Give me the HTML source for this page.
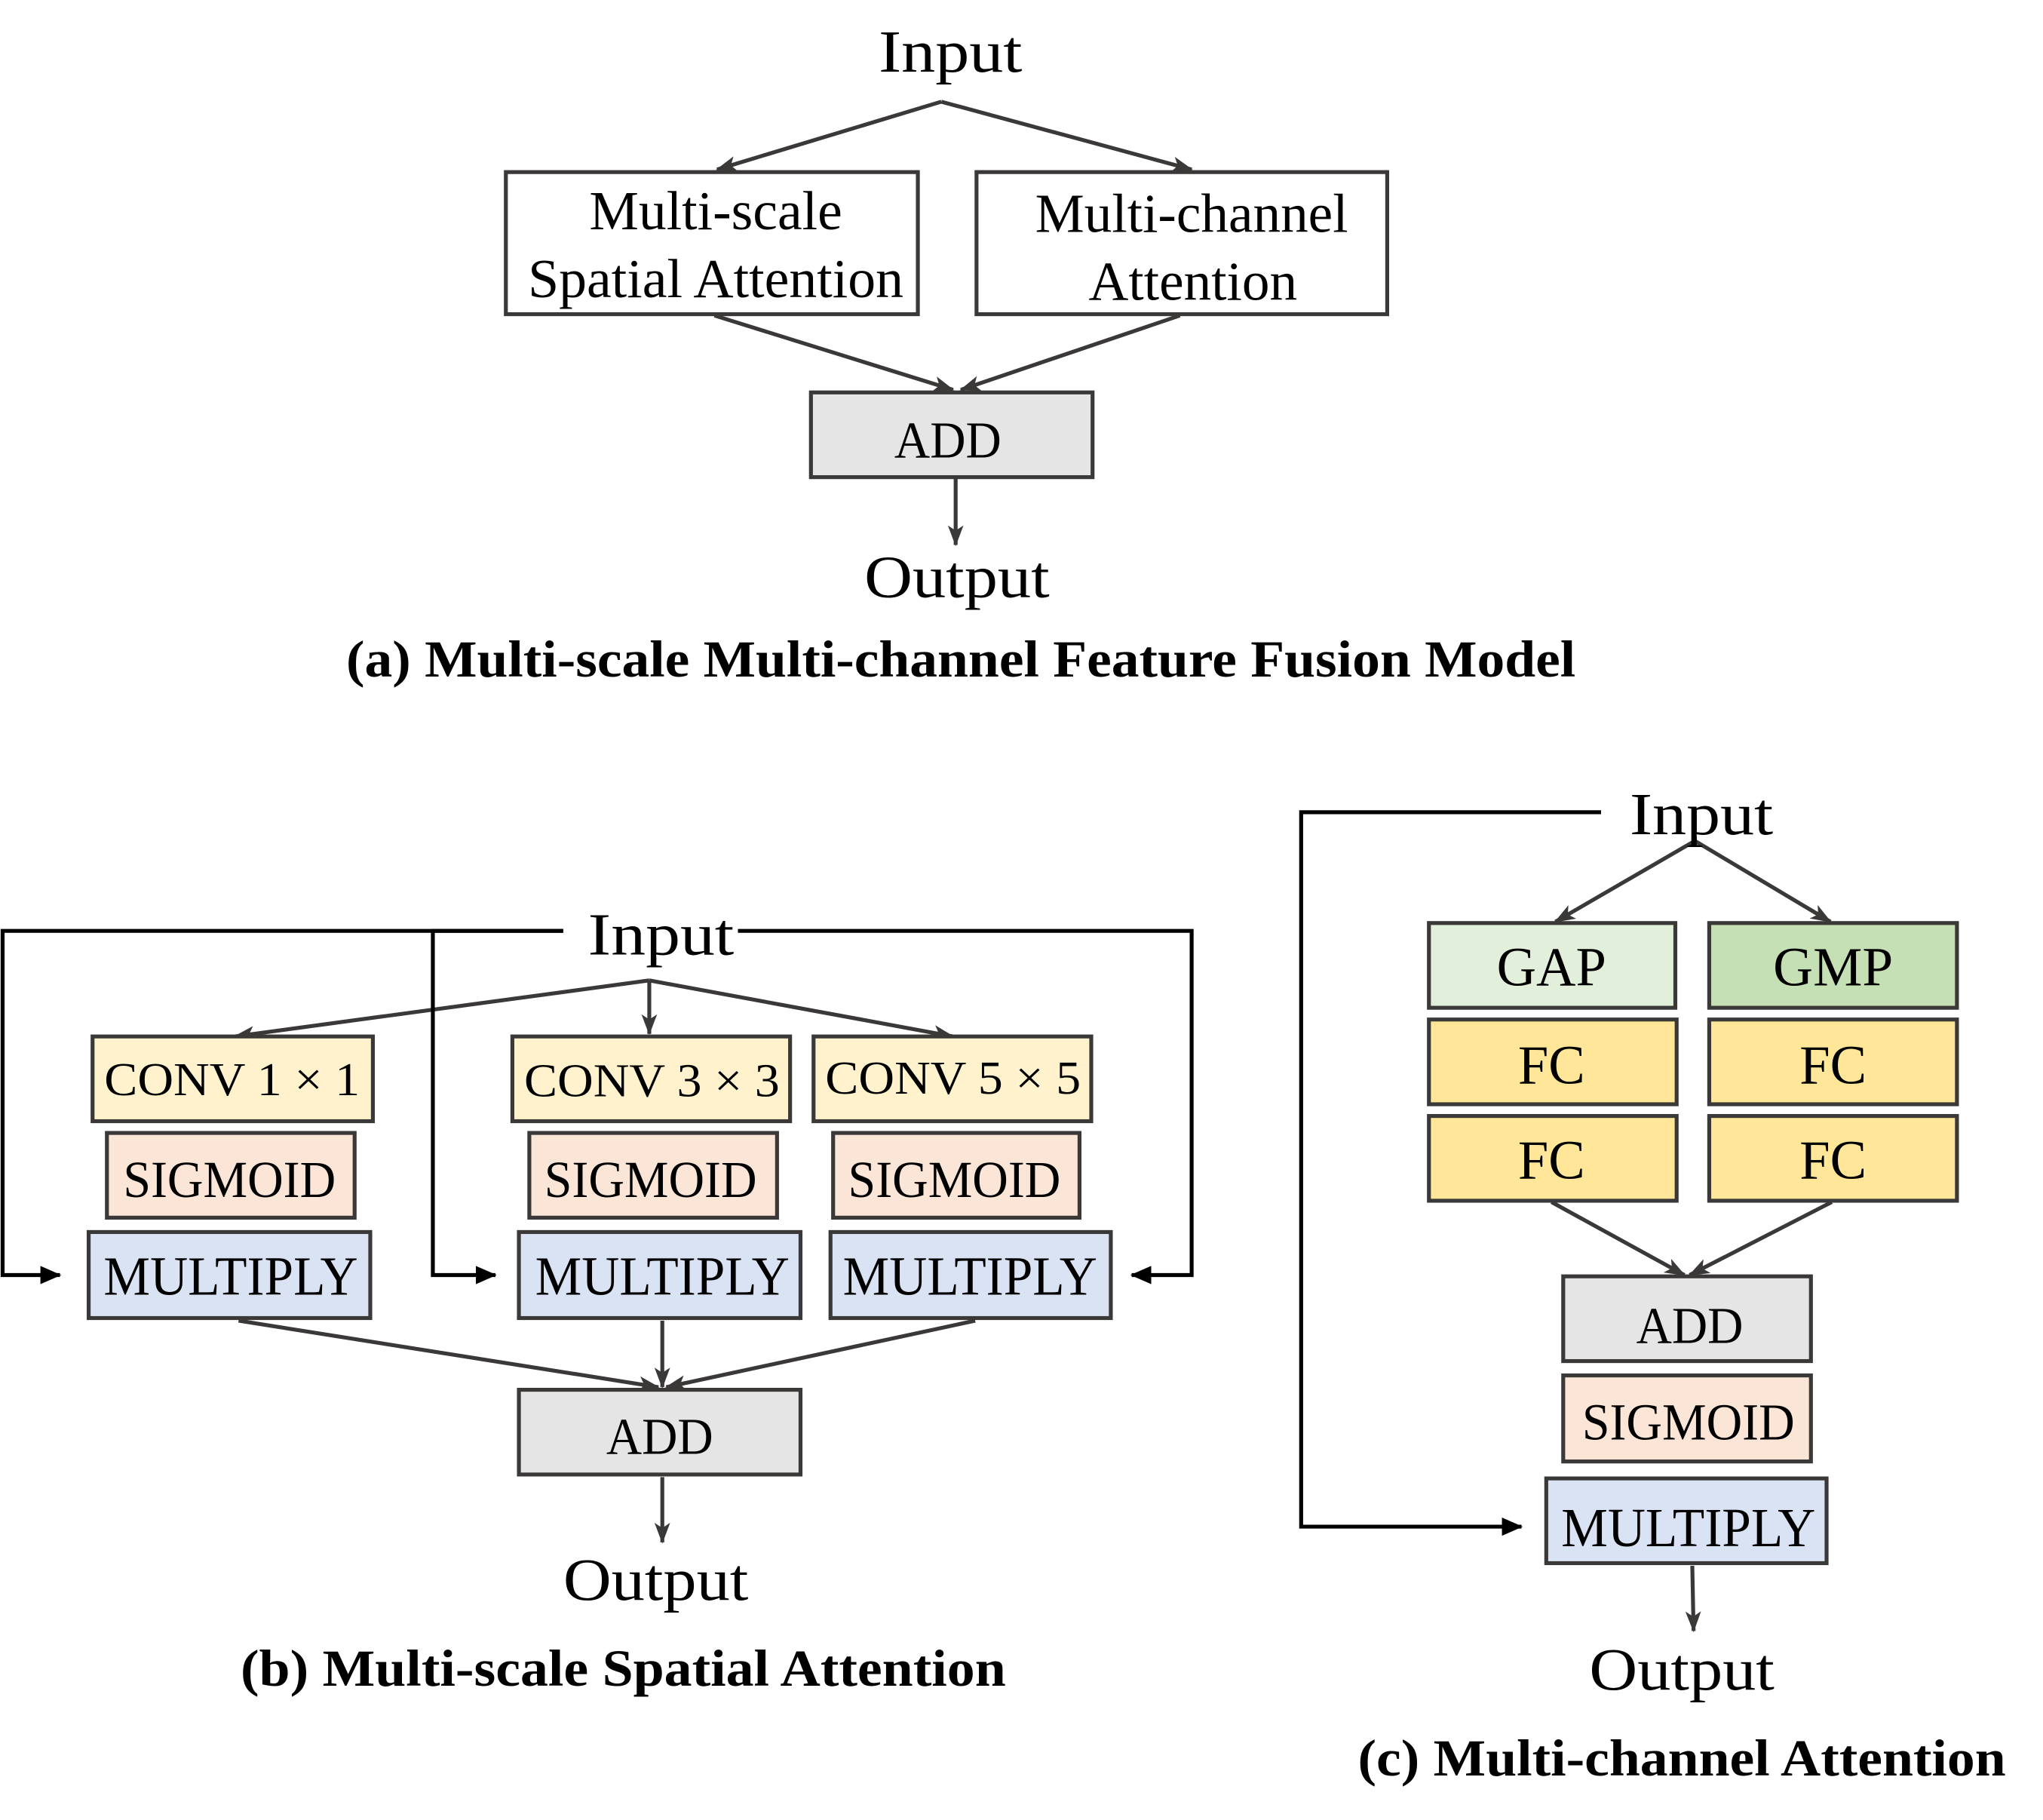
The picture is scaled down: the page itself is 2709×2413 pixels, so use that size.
<!DOCTYPE html>
<html><head><meta charset="utf-8"><style>
html,body{margin:0;padding:0;background:#fff;}
svg{display:block;}
text{font-family:"Liberation Serif",serif;fill:#000;}
</style></head><body>
<svg width="2709" height="2413" viewBox="0 0 1567 1396" preserveAspectRatio="none" xmlns="http://www.w3.org/2000/svg">
<defs>
<marker id="ag" markerWidth="16" markerHeight="12" refX="15" refY="6" orient="auto" markerUnits="userSpaceOnUse"><path d="M0,0 L16,6 L0,12 L4,6 z" fill="#3b3838"/></marker>
<marker id="ab" markerWidth="16" markerHeight="14" refX="15" refY="7" orient="auto" markerUnits="userSpaceOnUse"><path d="M0,0 L16,7 L0,14 z" fill="#000"/></marker>
</defs>
<g stroke="#3b3838" stroke-width="3" fill="none">
<line x1="722" y1="78" x2="914" y2="130" marker-end="url(#ag)"/>
<line x1="722" y1="78" x2="550" y2="130" marker-end="url(#ag)"/>
<line x1="548" y1="242" x2="731" y2="299" marker-end="url(#ag)"/>
<line x1="905" y1="242" x2="737" y2="299" marker-end="url(#ag)"/>
<line x1="733" y1="367" x2="733" y2="418" marker-end="url(#ag)"/>
<rect x="388" y="132" width="316" height="109" fill="#fff"/>
<rect x="749" y="132" width="315" height="109" fill="#fff"/>
<rect x="622" y="301" width="216" height="65" fill="#e6e5e5"/>
<line x1="498" y1="752" x2="180" y2="795" marker-end="url(#ag)"/>
<line x1="498" y1="752" x2="731" y2="795" marker-end="url(#ag)"/>
<line x1="498" y1="752" x2="498" y2="793" marker-end="url(#ag)"/>
<line x1="183" y1="1013" x2="505" y2="1064" marker-end="url(#ag)"/>
<line x1="508" y1="1013" x2="508" y2="1064" marker-end="url(#ag)"/>
<line x1="748" y1="1013" x2="511" y2="1064" marker-end="url(#ag)"/>
<line x1="508" y1="1133" x2="508" y2="1183" marker-end="url(#ag)"/>
<rect x="71" y="795" width="215" height="65" fill="#fff2cc"/>
<rect x="82" y="869" width="190" height="65" fill="#fbe5d6"/>
<rect x="68" y="945" width="216" height="66" fill="#dae3f3"/>
<rect x="393" y="795" width="213" height="65" fill="#fff2cc"/>
<rect x="406" y="869" width="190" height="65" fill="#fbe5d6"/>
<rect x="398" y="945" width="216" height="66" fill="#dae3f3"/>
<rect x="624" y="795" width="213" height="65" fill="#fff2cc"/>
<rect x="639" y="869" width="189" height="65" fill="#fbe5d6"/>
<rect x="637" y="945" width="215" height="66" fill="#dae3f3"/>
<rect x="398" y="1066" width="216" height="65" fill="#e6e5e5"/>
<line x1="1300" y1="645" x2="1193" y2="707" marker-end="url(#ag)"/>
<line x1="1300" y1="645" x2="1404" y2="707" marker-end="url(#ag)"/>
<line x1="1190" y1="922" x2="1292" y2="978" marker-end="url(#ag)"/>
<line x1="1405" y1="922" x2="1296" y2="978" marker-end="url(#ag)"/>
<line x1="1298" y1="1201" x2="1299" y2="1251" marker-end="url(#ag)"/>
<rect x="1096" y="708" width="189" height="65" fill="#e2efda"/>
<rect x="1311" y="708" width="190" height="65" fill="#c5e0b4"/>
<rect x="1096" y="782" width="190" height="65" fill="#ffe699"/>
<rect x="1311" y="782" width="190" height="65" fill="#ffe699"/>
<rect x="1096" y="856" width="190" height="65" fill="#ffe699"/>
<rect x="1311" y="856" width="190" height="65" fill="#ffe699"/>
<rect x="1199" y="979" width="190" height="65" fill="#e6e5e5"/>
<rect x="1199" y="1055" width="190" height="66" fill="#fbe5d6"/>
<rect x="1186" y="1134" width="215" height="65" fill="#dae3f3"/>
</g>
<g stroke="#000" stroke-width="3" fill="none">
<polyline points="432,714 2,714 2,978 46,978" marker-end="url(#ab)"/>
<polyline points="432,714 332,714 332,978 380,978" marker-end="url(#ab)"/>
<polyline points="566,714 914,714 914,978 868,978" marker-end="url(#ab)"/>
<polyline points="1228,623 998,623 998,1171 1167,1171" marker-end="url(#ab)"/>
</g>
<g text-anchor="middle" lengthAdjust="spacingAndGlyphs">
<text x="729" y="55" font-size="46" textLength="110" lengthAdjust="spacingAndGlyphs">Input</text>
<text x="549" y="176" font-size="42" textLength="194" lengthAdjust="spacingAndGlyphs">Multi-scale</text>
<text x="549" y="228" font-size="42" textLength="288" lengthAdjust="spacingAndGlyphs">Spatial Attention</text>
<text x="914" y="178" font-size="42" textLength="240" lengthAdjust="spacingAndGlyphs">Multi-channel</text>
<text x="915" y="230" font-size="42" textLength="160" lengthAdjust="spacingAndGlyphs">Attention</text>
<text x="727" y="351" font-size="40" textLength="82" lengthAdjust="spacingAndGlyphs">ADD</text>
<text x="734" y="458" font-size="46" textLength="142" lengthAdjust="spacingAndGlyphs">Output</text>
<text x="737" y="519" font-size="40" font-weight="bold" textLength="943" lengthAdjust="spacingAndGlyphs">(a) Multi-scale Multi-channel Feature Fusion Model</text>

<text x="507" y="732" font-size="46" textLength="112" lengthAdjust="spacingAndGlyphs">Input</text>
<text x="178" y="840" font-size="36" textLength="196" lengthAdjust="spacingAndGlyphs">CONV 1 × 1</text>
<text x="500" y="841" font-size="36" textLength="196" lengthAdjust="spacingAndGlyphs">CONV 3 × 3</text>
<text x="731" y="839" font-size="36" textLength="196" lengthAdjust="spacingAndGlyphs">CONV 5 × 5</text>
<text x="176" y="918" font-size="40" textLength="163" lengthAdjust="spacingAndGlyphs">SIGMOID</text>
<text x="499" y="918" font-size="40" textLength="163" lengthAdjust="spacingAndGlyphs">SIGMOID</text>
<text x="732" y="918" font-size="40" textLength="163" lengthAdjust="spacingAndGlyphs">SIGMOID</text>
<text x="177" y="993" font-size="42" textLength="195" lengthAdjust="spacingAndGlyphs">MULTIPLY</text>
<text x="508" y="993" font-size="42" textLength="195" lengthAdjust="spacingAndGlyphs">MULTIPLY</text>
<text x="744" y="993" font-size="42" textLength="195" lengthAdjust="spacingAndGlyphs">MULTIPLY</text>
<text x="506" y="1115" font-size="40" textLength="82" lengthAdjust="spacingAndGlyphs">ADD</text>
<text x="503" y="1227" font-size="46" textLength="142" lengthAdjust="spacingAndGlyphs">Output</text>
<text x="478" y="1293" font-size="40" font-weight="bold" textLength="587" lengthAdjust="spacingAndGlyphs">(b) Multi-scale Spatial Attention</text>

<text x="1305" y="640" font-size="46" textLength="110" lengthAdjust="spacingAndGlyphs">Input</text>
<text x="1190" y="756" font-size="42" textLength="84" lengthAdjust="spacingAndGlyphs">GAP</text>
<text x="1406" y="756" font-size="42" textLength="92" lengthAdjust="spacingAndGlyphs">GMP</text>
<text x="1190" y="831" font-size="42">FC</text>
<text x="1406" y="831" font-size="42">FC</text>
<text x="1190" y="904" font-size="42">FC</text>
<text x="1406" y="904" font-size="42">FC</text>
<text x="1296" y="1030" font-size="40" textLength="82" lengthAdjust="spacingAndGlyphs">ADD</text>
<text x="1295" y="1104" font-size="40" textLength="163" lengthAdjust="spacingAndGlyphs">SIGMOID</text>
<text x="1295" y="1186" font-size="42" textLength="195" lengthAdjust="spacingAndGlyphs">MULTIPLY</text>
<text x="1290" y="1296" font-size="46" textLength="142" lengthAdjust="spacingAndGlyphs">Output</text>
<text x="1290" y="1362" font-size="40" font-weight="bold" textLength="497" lengthAdjust="spacingAndGlyphs">(c) Multi-channel Attention</text>
</g>
</svg>
</body></html>
